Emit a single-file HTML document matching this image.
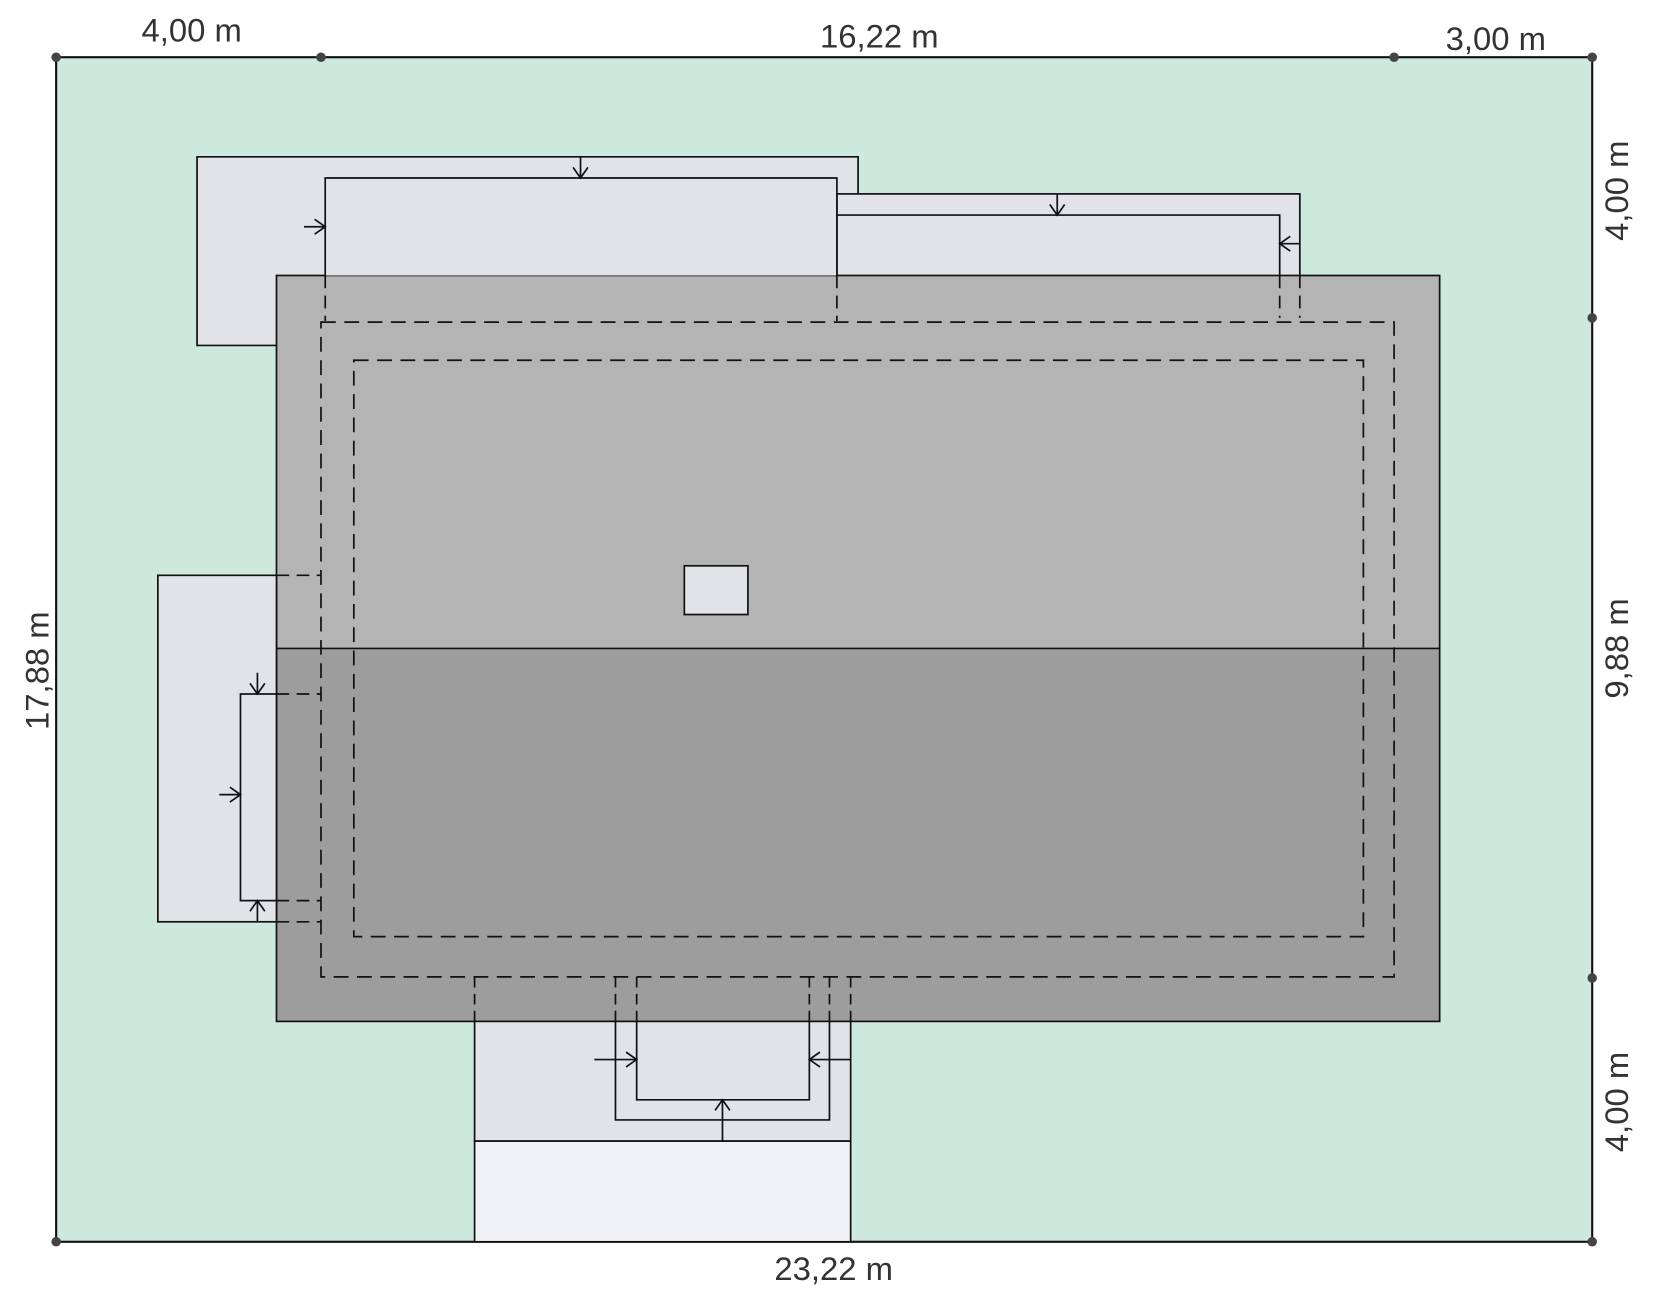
<!DOCTYPE html>
<html><head><meta charset="utf-8"><style>
html,body{margin:0;padding:0;background:#fff;width:1660px;height:1299px;overflow:hidden}
svg{display:block}
text{font-family:"Liberation Sans Narrow","Liberation Sans",sans-serif;font-size:31px;fill:#333}
</style></head><body>
<svg width="1660" height="1299" viewBox="0 0 1567 1226" preserveAspectRatio="none" xmlns="http://www.w3.org/2000/svg">
<g stroke="#111" stroke-width="1.6" fill="none">
<rect x="53" y="54" width="1450" height="1118" fill="#cde8dd" stroke-width="2"/>
<!-- top terraces -->
<rect x="186" y="148" width="624" height="178" fill="#e2e3e8" stroke="none"/>
<rect x="790" y="183" width="437" height="117" fill="#e2e3e8"/>
<path d="M261 326 H186 V148 H810 V183"/>
<path d="M261 326 H303" stroke-dasharray="12 7"/>
<!-- house -->
<rect x="261" y="260" width="1098" height="352" fill="#b3b4b3" stroke="none"/>
<rect x="261" y="612" width="1098" height="352" fill="#9c9d9c" stroke="none"/>
<rect x="261" y="260" width="1098" height="704"/>
<line x1="261" y1="612" x2="1359" y2="612"/>
<!-- left terrace -->
<rect x="149" y="543" width="112" height="327" fill="#e2e3e8"/>
<rect x="227" y="655" width="34" height="195" fill="#e2e3e8"/>
<!-- top inner lines -->
<path d="M307 260 V168 H790 V260" fill="#e2e3e8"/>
<path d="M307 260 V303 M790 260 V303" stroke-dasharray="12 7"/>
<path d="M790 203 H1208 V260"/>
<path d="M1208 260 V300 M1227 260 V300" stroke-dasharray="12 7"/>
<!-- dashed rects -->
<rect x="303" y="304" width="1013" height="618" stroke-dasharray="14 8"/>
<rect x="334" y="340" width="953" height="544" stroke-dasharray="14 8"/>
<!-- chimney -->
<rect x="646" y="534" width="60" height="46" fill="#e2e3e8"/>
<!-- left inner -->
<path d="M261 543 H303 M261 655 H303 M261 850 H303 M261 870 H303" stroke-dasharray="12 7"/>
<!-- porch -->
<rect x="448" y="964" width="355" height="113" fill="#e2e3e8"/>
<rect x="448" y="1077" width="355" height="95" fill="#f1f2f5"/>
<path d="M448 922 V964 M803 922 V964 M581 922 V964 M601 922 V964 M764 922 V964 M783 922 V964" stroke-dasharray="10 6"/>
<path d="M581 964 V1057 H783 V964 M601 964 V1038 H764 V964"/>
<!-- arrows -->
<path d="M548 148 V168 M541 158 L548 168 L555 158"/>
<path d="M287 214 H307 M297 207 L307 214 L297 221"/>
<path d="M998 183 V203 M991 193 L998 203 L1005 193"/>
<path d="M1227 230 H1208 M1218 223 L1208 230 L1218 237"/>
<path d="M243 635 V655 M236 645 L243 655 L250 645"/>
<path d="M207 750 H227 M217 743 L227 750 L217 757"/>
<path d="M243 870 V850 M236 860 L243 850 L250 860"/>
<path d="M561 1000 H601 M591 993 L601 1000 L591 1007"/>
<path d="M803 1000 H764 M774 993 L764 1000 L774 1007"/>
<path d="M682 1077 V1038 M675 1048 L682 1038 L689 1048"/>
</g>
<g fill="#444">
<circle cx="53" cy="54" r="4.5"/><circle cx="303" cy="54" r="4.5"/><circle cx="1316" cy="54" r="4.5"/><circle cx="1503" cy="54" r="4.5"/>
<circle cx="1503" cy="300" r="4.5"/><circle cx="1503" cy="923" r="4.5"/><circle cx="53" cy="1172" r="4.5"/><circle cx="1503" cy="1172" r="4.5"/>
</g>
<text x="181" y="39" text-anchor="middle">4,00  m</text>
<text x="830" y="45" text-anchor="middle">16,22  m</text>
<text x="1412" y="47" text-anchor="middle">3,00  m</text>
<text x="787" y="1208" text-anchor="middle">23,22  m</text>
<text transform="translate(46,633) rotate(-90)" text-anchor="middle">17,88  m</text>
<text transform="translate(1537,180) rotate(-90)" text-anchor="middle">4,00  m</text>
<text transform="translate(1537,612) rotate(-90)" text-anchor="middle">9,88  m</text>
<text transform="translate(1537,1040) rotate(-90)" text-anchor="middle">4,00  m</text>
</svg>
</body></html>
